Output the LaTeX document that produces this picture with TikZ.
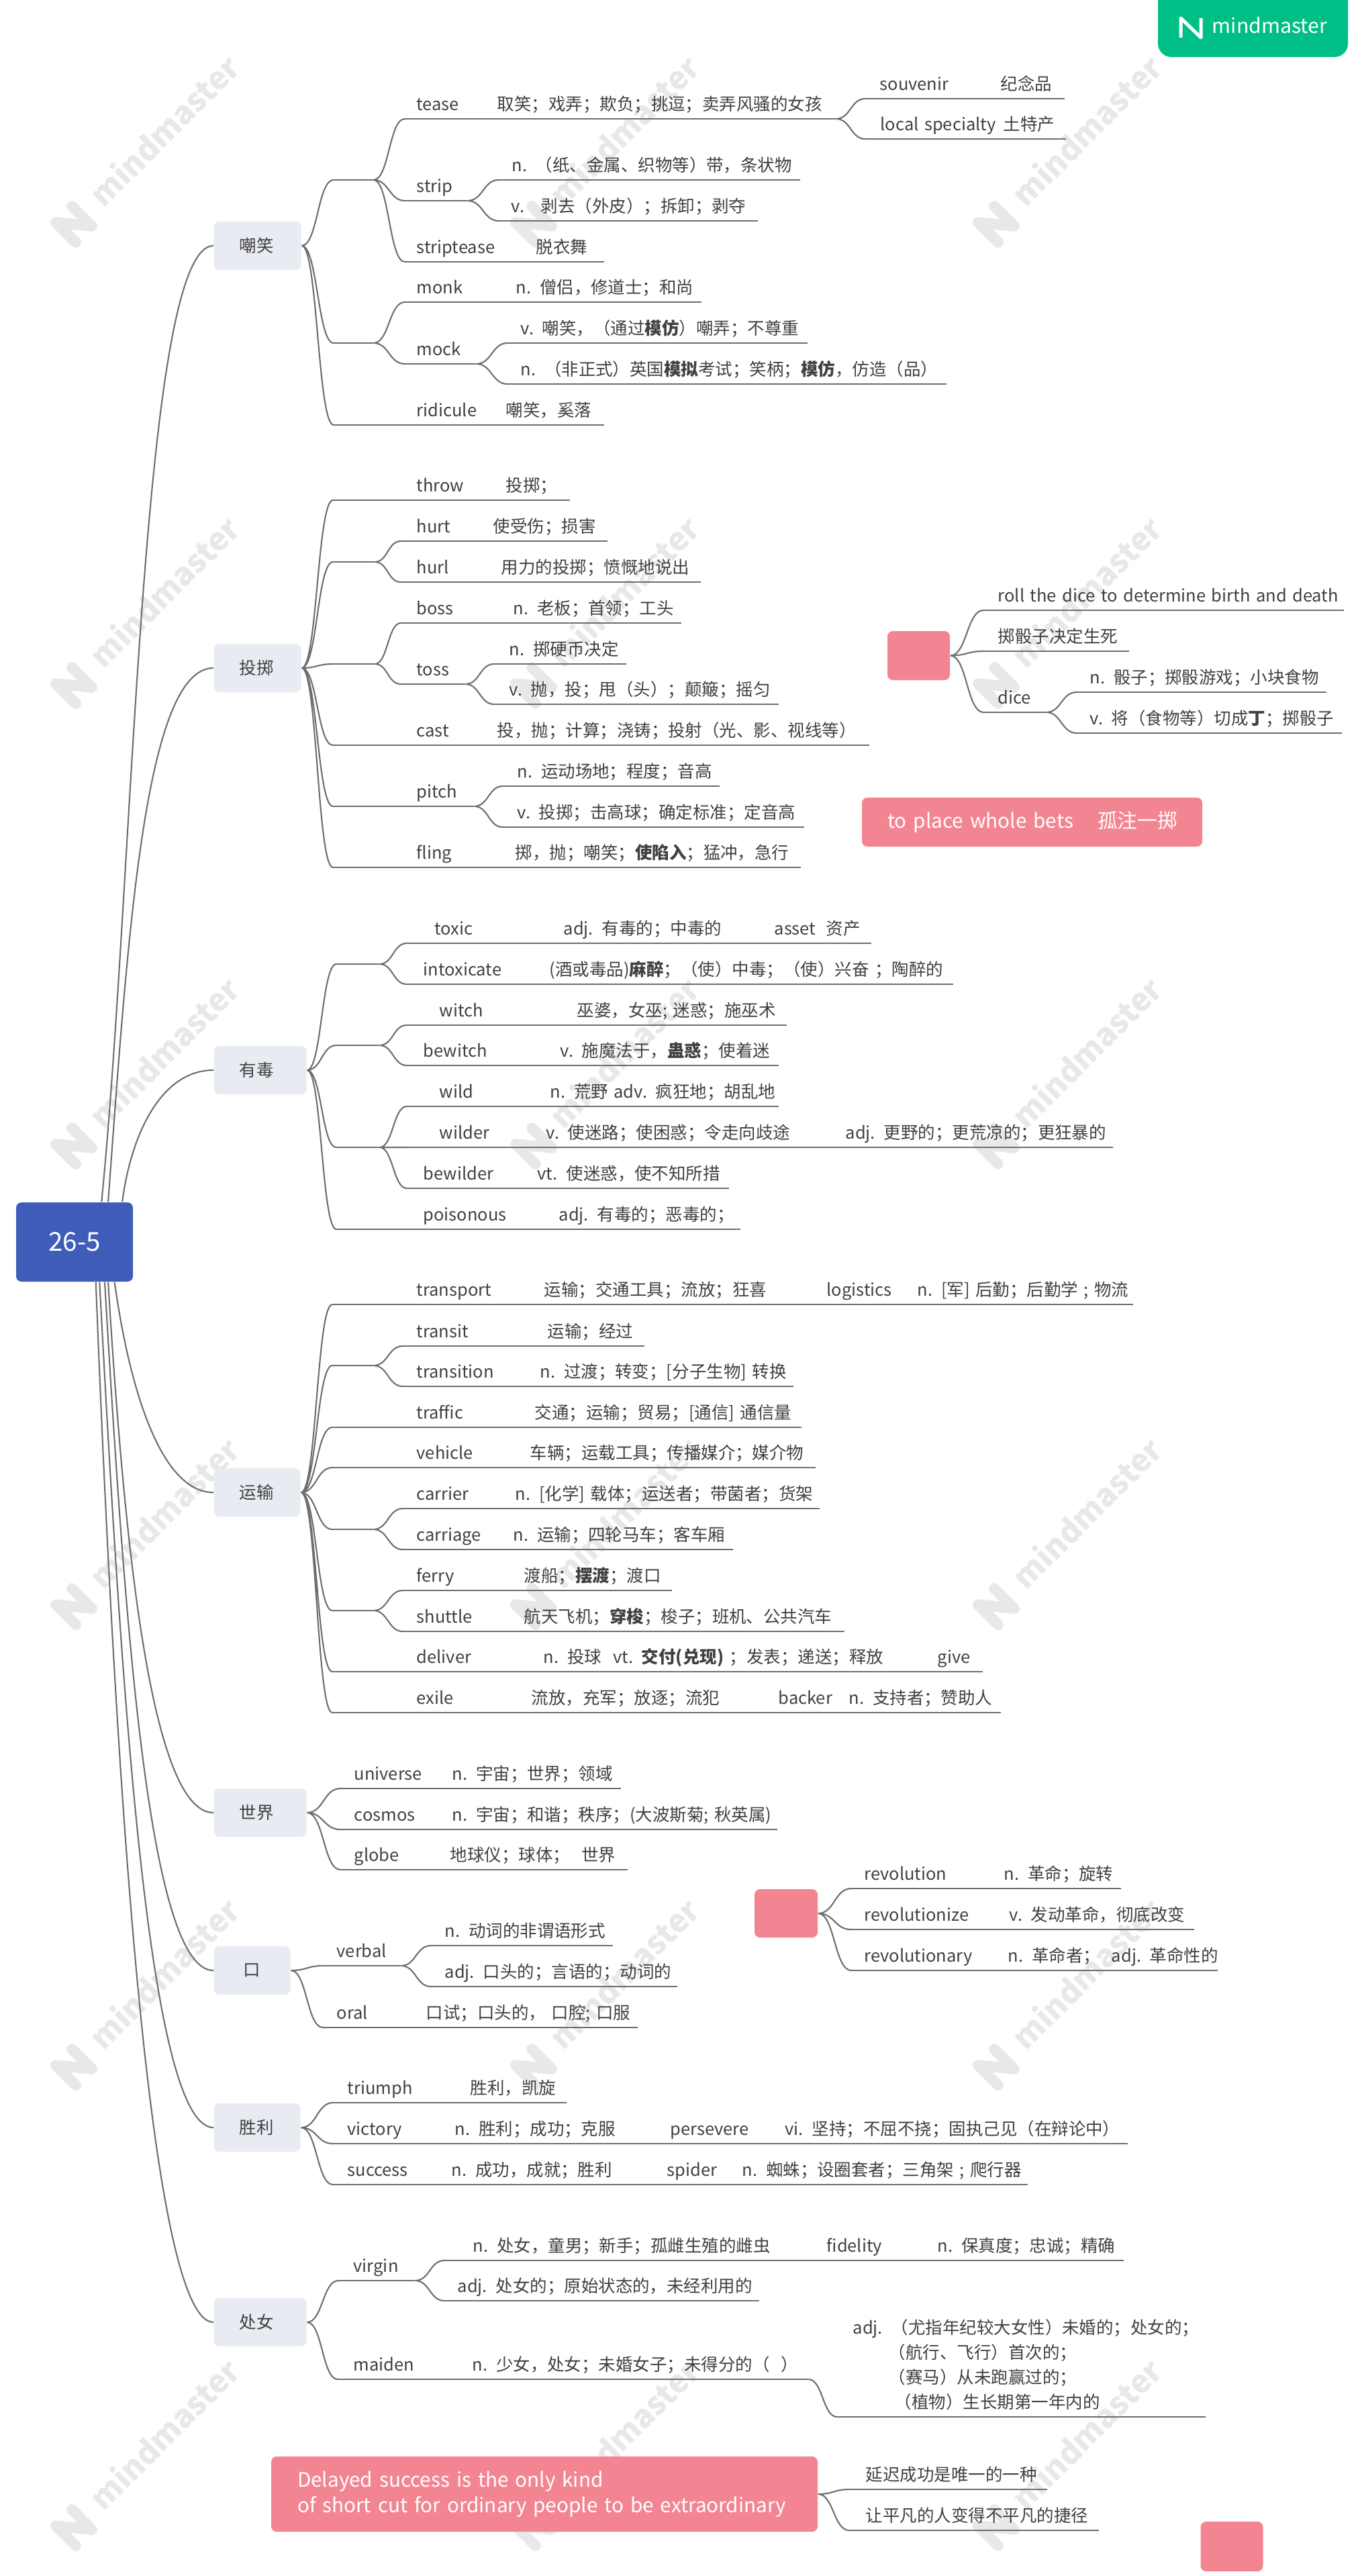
\documentclass[tikz,border=0pt]{standalone}
\usepackage{fontspec}
\setmainfont{Noto Sans CJK SC}
\usepackage{tikz}
\usetikzlibrary{calc}
\usepackage{xcolor}
\definecolor{rootblue}{HTML}{3F5DB8}
\definecolor{topicgrey}{HTML}{E9EBF3}
\definecolor{notepink}{HTML}{F38592}
\definecolor{brandgreen}{HTML}{00BF86}
\definecolor{ink}{HTML}{404040}
\definecolor{wire}{HTML}{6E6E6E}
\definecolor{ghost}{HTML}{E8E8E8}
\newcommand{\bodyfont}{\fontsize{7.25}{10.5}\selectfont}
\newcommand{\notefont}{\fontsize{8.45}{10.8}\selectfont}
\newcommand{\entry}[2]{\leavevmode\rlap{\hspace*{#1cm}#2}}
\newcommand{\wordcol}[2]{\makebox[#1cm][l]{#2}}
\tikzset{
  rootbox/.style={fill=rootblue,rounded corners=.08cm,text=white,
    minimum width=1.74cm,minimum height=1.18cm,font=\fontsize{11}{12}\selectfont},
  topic/.style={fill=topicgrey,rounded corners=.08cm,anchor=west,align=left,
    inner xsep=.38cm,inner ysep=0pt,minimum height=.72cm,text=ink,font=\bodyfont},
  notebox/.style={fill=notepink,rounded corners=.08cm,text=white,inner ysep=0pt,
    align=left,font=\notefont},
  blank/.style={notebox,minimum width=.93cm,minimum height=.73cm},
  rule/.style={draw=wire,line width=.6pt},
  leaf/.style={anchor=south west,inner sep=0pt,align=left,text=ink,font=\bodyfont,
    text height=.2cm,text depth=.12cm,
    append after command={(\tikzlastnode.south west) edge[rule] (\tikzlastnode.south east)}},
  twig/.style={draw=wire,line width=.6pt,
    to path={.. controls ($(\tikztostart)!.5!(\tikztotarget |- \tikztostart)$)
      and ($(\tikztotarget)!.5!(\tikztostart |- \tikztotarget)$) .. (\tikztotarget)}},
  trunk/.style={draw=wire,line width=.6pt},
  ghosttext/.style={text=ghost,rotate=45,font=\fontsize{13.4}{16}\selectfont\bfseries},
  ghostlogo/.style={draw=ghost,line width=.16cm,line join=round,line cap=round}
}

\begin{document}
\begin{tikzpicture}[x=1cm,y=-1cm]
  \useasboundingbox (0,0) rectangle (20.22,38.37);
  % watermark
  \foreach \col in {1.10,7.95,14.84} {
    \foreach \row in {3.34,10.21,17.07,23.93,30.79,37.65} {
      \node[ghosttext] at (\col+1.34,\row-1.40) {mindmaster};
      \draw[ghostlogo,rotate around={45:(\col,\row)}] (\col-.17,\row+.21) -- (\col-.17,\row-.21)
        -- (\col+.17,\row+.21) -- (\col+.17,\row-.21);
    }
  }
  % brand
  \node[fill=brandgreen,rounded corners=.2cm,minimum width=2.83cm,minimum height=1.2cm] (badge) at (18.665,.25) {};
  \node[text=white,font=\fontsize{8.6}{11}\selectfont] (brand) at (18.915,.38) {mindmaster};
  \draw[white,line width=.05cm,line join=round] (17.59,.56) -- (17.59,.27) -- (17.89,.56) -- (17.89,.27);

  % root and topics
  \node[rootbox] (root) at (1.11,18.50) {26-5};
  \node[topic,text width=.54cm] (laugh) at (3.18,3.66) {嘲笑};
  \node[topic,text width=.54cm] (hurling) at (3.18,9.95) {投掷};
  \node[topic,text width=.62cm] (poison) at (3.18,15.94) {有毒};
  \node[topic,text width=.53cm] (carry) at (3.18,22.23) {运输};
  \node[topic,text width=.62cm] (world) at (3.18,27.00) {世界};
  \node[topic,text width=.38cm,align=center] (mouth) at (3.18,29.35) {口};
  \node[topic,text width=.53cm] (win) at (3.18,31.69) {胜利};
  \node[topic,text width=.62cm] (maid) at (3.18,34.59) {处女};
  \draw[trunk] (root.56) .. controls (2.00,13.00) and (2.10,3.66) .. (laugh.west);
  \draw[trunk] (root.50) .. controls (1.90,14.00) and (2.15,9.95) .. (hurling.west);
  \draw[trunk] (root.40) .. controls (1.95,16.90) and (2.40,15.94) .. (poison.west);
  \draw[trunk] (root.-45) .. controls (1.90,20.50) and (2.35,22.23) .. (carry.west);
  \draw[trunk] (root.-50) .. controls (1.85,23.00) and (2.25,27.00) .. (world.west);
  \draw[trunk] (root.-53) .. controls (1.85,24.00) and (2.20,29.35) .. (mouth.west);
  \draw[trunk] (root.-58) .. controls (1.80,25.00) and (2.20,31.69) .. (win.west);
  \draw[trunk] (root.-62) .. controls (1.70,26.00) and (2.20,34.59) .. (maid.west);

  % 嘲笑
  \node[leaf,text width=.58cm] (teasefork) at (4.97,2.68) {};
  \node[leaf,text width=6.41cm] (tease) at (6.03,1.77) {\entry{.17}{\wordcol{1.20}{tease}取笑；戏弄；欺负；挑逗；卖弄风骚的女孩}};
  \node[leaf,text width=2.96cm] (souvenir) at (12.89,1.47) {\entry{.21}{\wordcol{1.80}{souvenir}纪念品}};
  \node[leaf,text width=2.98cm] (localspecialty) at (12.89,2.07) {\entry{.22}{\wordcol{1.83}{local specialty}土特产}};
  \node[leaf,text width=.92cm] (strip) at (6.03,2.99) {\entry{.17}{strip}};
  \node[leaf,text width=4.48cm] (stripn) at (7.43,2.68) {\entry{.19}{\wordcol{.35}{n.}（纸、金属、织物等）带，条状物}};
  \node[leaf,text width=3.85cm] (stripv) at (7.43,3.29) {\entry{.18}{\wordcol{.44}{v.}剥去（外皮）；拆卸；剥夺}};
  \node[leaf,text width=2.96cm] (striptease) at (6.03,3.90) {\entry{.17}{\wordcol{1.78}{striptease}脱衣舞}};
  \node[leaf,text width=.58cm] (mockfork) at (4.97,5.11) {};
  \node[leaf,text width=4.41cm] (monk) at (6.03,4.50) {\entry{.17}{\wordcol{1.48}{monk}n. 僧侣，修道士；和尚}};
  \node[leaf,text width=1.05cm] (mock) at (6.03,5.42) {\entry{.17}{mock}};
  \node[leaf,text width=4.46cm] (mockv) at (7.56,5.11) {\entry{.19}{v. 嘲笑，（通过\textbf{模仿}）嘲弄；不尊重}};
  \node[leaf,text width=6.53cm] (mockn) at (7.56,5.72) {\entry{.19}{n. （非正式）英国\textbf{模拟}考试；笑柄；\textbf{模仿}，仿造（品）}};
  \node[leaf,text width=4.02cm] (ridicule) at (4.97,6.33) {\entry{1.23}{\wordcol{1.33}{ridicule}嘲笑，奚落}};
  \draw[twig] (laugh.east) to (teasefork.south west) (laugh.east) to (mockfork.south west) (laugh.east) to (ridicule.south west);
  \draw[twig] (teasefork.south east) to (tease.south west) (teasefork.south east) to (strip.south west) (teasefork.south east) to (striptease.south west);
  \draw[twig] (tease.south east) to (souvenir.south west) (tease.south east) to (localspecialty.south west);
  \draw[twig] (strip.south east) to (stripn.south west) (strip.south east) to (stripv.south west);
  \draw[twig] (mockfork.south east) to (monk.south west) (mockfork.south east) to (mock.south west);
  \draw[twig] (mock.south east) to (mockv.south west) (mock.south east) to (mockn.south west);

  % 投掷
  \node[leaf,text width=3.52cm] (throw) at (4.96,7.45) {\entry{1.24}{\wordcol{1.33}{throw}投掷；}};
  \node[leaf,text width=.61cm] (hurlfork) at (4.96,8.37) {};
  \node[leaf,text width=3.07cm] (hurt) at (5.97,8.06) {\entry{.23}{\wordcol{1.14}{hurt}使受伤；损害}};
  \node[leaf,text width=4.46cm] (hurl) at (5.97,8.67) {\entry{.23}{\wordcol{1.26}{hurl}用力的投掷；愤慨地说出}};
  \node[leaf,text width=.61cm] (tossfork) at (4.96,9.89) {};
  \node[leaf,text width=4.17cm] (boss) at (5.97,9.28) {\entry{.23}{\wordcol{1.44}{boss}n. 老板；首领；工头}};
  \node[leaf,text width=.95cm] (toss) at (5.97,10.19) {\entry{.23}{toss}};
  \node[leaf,text width=1.96cm] (tossn) at (7.36,9.89) {\entry{.22}{n. 掷硬币决定}};
  \node[leaf,text width=4.23cm] (tossv) at (7.36,10.49) {\entry{.22}{v. 抛，投；甩（头）；颠簸；摇匀}};
  \node[leaf,text width=7.98cm] (cast) at (4.96,11.10) {\entry{1.24}{\wordcol{1.20}{cast}投，抛；计算；浇铸；投射（光、影、视线等）}};
  \node[leaf,text width=2.09cm] (pitch) at (4.96,12.01) {\entry{1.24}{pitch}};
  \node[leaf,text width=3.22cm] (pitchn) at (7.49,11.71) {\entry{.21}{n. 运动场地；程度；音高}};
  \node[leaf,text width=4.48cm] (pitchv) at (7.49,12.32) {\entry{.21}{v. 投掷；击高球；确定标准；定音高}};
  \node[leaf,text width=6.96cm] (fling) at (4.96,12.92) {\entry{1.24}{\wordcol{1.47}{fling}掷，抛；嘲笑；\textbf{使陷入}；猛冲，急行}};
  \draw[twig] (hurling.east) to (throw.south west) (hurling.east) to (hurlfork.south west) (hurling.east) to (tossfork.south west)
    (hurling.east) to (cast.south west) (hurling.east) to (pitch.south west) (hurling.east) to (fling.south west);
  \draw[twig] (hurlfork.south east) to (hurt.south west) (hurlfork.south east) to (hurl.south west);
  \draw[twig] (tossfork.south east) to (boss.south west) (tossfork.south east) to (toss.south west);
  \draw[twig] (toss.south east) to (tossn.south west) (toss.south east) to (tossv.south west);
  \draw[twig] (pitch.south east) to (pitchn.south west) (pitch.south east) to (pitchv.south west);

  % 骰子
  \node[blank] (dicebox) at (13.685,9.765) {};
  \node[leaf,text width=5.36cm] (roll) at (14.65,9.09) {\entry{.21}{roll the dice to determine birth and death}};
  \node[leaf,text width=2.16cm] (rollcn) at (14.65,9.70) {\entry{.21}{掷骰子决定生死}};
  \node[leaf,text width=.92cm] (dice) at (14.65,10.61) {\entry{.21}{dice}};
  \node[leaf,text width=3.71cm] (dicen) at (16.04,10.31) {\entry{.19}{n. 骰子；掷骰游戏；小块食物}};
  \node[leaf,text width=3.94cm] (dicev) at (16.04,10.92) {\entry{.19}{v. 将（食物等）切成\textbf{丁}；掷骰子}};
  \draw[twig] (dicebox.east) to (roll.south west) (dicebox.east) to (rollcn.south west) (dicebox.east) to (dice.south west);
  \draw[twig] (dice.south east) to (dicen.south west) (dice.south east) to (dicev.south west);
  \node[notebox,inner xsep=.38cm,text width=4.31cm,minimum height=.73cm] (bets) at (15.375,12.245) {\wordcol{3.13}{to place whole bets}孤注一掷};

  % 有毒
  \node[leaf,text width=.63cm] (toxicfork) at (5.01,14.36) {};
  \node[leaf,text width=6.91cm] (toxic) at (6.06,14.05) {\entry{.41}{\wordcol{1.92}{toxic}\wordcol{3.14}{adj. 有毒的；中毒的}\wordcol{.77}{asset}资产}};
  \node[leaf,text width=8.13cm] (intoxicate) at (6.06,14.66) {\entry{.24}{\wordcol{1.88}{intoxicate}(酒或毒品)\textbf{麻醉}；（使）中毒；（使）兴奋 ；陶醉的}};
  \node[leaf,text width=.63cm] (witchfork) at (5.01,15.57) {};
  \node[leaf,text width=5.65cm] (witch) at (6.06,15.27) {\entry{.48}{\wordcol{2.05}{witch}巫婆，女巫; 迷惑；施巫术}};
  \node[leaf,text width=5.53cm] (bewitch) at (6.06,15.87) {\entry{.24}{\wordcol{2.04}{bewitch}v. 施魔法于，\textbf{蛊惑}；使着迷}};
  \node[leaf,text width=.63cm] (wildfork) at (5.01,17.09) {};
  \node[leaf,text width=5.53cm] (wild) at (6.06,16.48) {\entry{.48}{\wordcol{1.65}{wild}n. 荒野 adv. 疯狂地；胡乱地}};
  \node[leaf,text width=10.51cm] (wilder) at (6.06,17.09) {\entry{.48}{\wordcol{1.59}{wilder}\wordcol{4.46}{v. 使迷路；使困惑；令走向歧途}adj. 更野的；更荒凉的；更狂暴的}};
  \node[leaf,text width=4.79cm] (bewilder) at (6.06,17.70) {\entry{.24}{\wordcol{1.70}{bewilder}vt. 使迷惑，使不知所措}};
  \node[leaf,text width=6.01cm] (poisonous) at (5.01,18.31) {\entry{1.29}{\wordcol{2.02}{poisonous}adj. 有毒的；恶毒的；}};
  \draw[twig] (poison.east) to (toxicfork.south west) (poison.east) to (witchfork.south west) (poison.east) to (wildfork.south west) (poison.east) to (poisonous.south west);
  \draw[twig] (toxicfork.south east) to (toxic.south west) (toxicfork.south east) to (intoxicate.south west);
  \draw[twig] (witchfork.south east) to (witch.south west) (witchfork.south east) to (bewitch.south west);
  \draw[twig] (wildfork.south east) to (wild.south west) (wildfork.south east) to (wilder.south west) (wildfork.south east) to (bewilder.south west);

  % 运输
  \node[leaf,text width=11.92cm] (transport) at (4.95,19.43) {\entry{1.25}{\wordcol{1.90}{transport}\wordcol{4.21}{运输；交通工具；流放；狂喜}\wordcol{1.35}{logistics}n. [军] 后勤；后勤学 ; 物流}};
  \node[leaf,text width=.60cm] (transitfork) at (4.95,20.34) {};
  \node[leaf,text width=3.59cm] (transit) at (6.00,20.05) {\entry{.20}{\wordcol{1.95}{transit}运输；经过}};
  \node[leaf,text width=5.81cm] (transition) at (6.00,20.65) {\entry{.20}{\wordcol{1.84}{transition}n. 过渡；转变；[分子生物] 转换}};
  \node[leaf,text width=6.98cm] (traffic) at (4.95,21.26) {\entry{1.25}{\wordcol{1.76}{traffic}交通；运输；贸易；[通信] 通信量}};
  \node[leaf,text width=7.19cm] (vehicle) at (4.95,21.86) {\entry{1.25}{\wordcol{1.69}{vehicle}车辆；运载工具；传播媒介；媒介物}};
  \node[leaf,text width=.60cm] (carrierfork) at (4.95,22.78) {};
  \node[leaf,text width=6.20cm] (carrier) at (6.00,22.47) {\entry{.20}{\wordcol{1.47}{carrier}n. [化学] 载体；运送者；带菌者；货架}};
  \node[leaf,text width=4.91cm] (carriage) at (6.00,23.08) {\entry{.20}{\wordcol{1.44}{carriage}n. 运输；四轮马车；客车厢}};
  \node[leaf,text width=.60cm] (ferryfork) at (4.95,23.99) {};
  \node[leaf,text width=4.00cm] (ferry) at (6.00,23.69) {\entry{.20}{\wordcol{1.60}{ferry}渡船；\textbf{摆渡}；渡口}};
  \node[leaf,text width=6.57cm] (shuttle) at (6.00,24.30) {\entry{.20}{\wordcol{1.60}{shuttle}航天飞机；\textbf{穿梭}；梭子；班机、公共汽车}};
  \node[leaf,text width=9.68cm] (deliver) at (4.95,24.90) {\entry{1.25}{\wordcol{1.89}{deliver}\wordcol{5.87}{n. 投球 \ vt. \textbf{交付(兑现)} ；发表；递送；释放}give}};
  \node[leaf,text width=9.95cm] (exile) at (4.95,25.51) {\entry{1.25}{\wordcol{1.71}{exile}\wordcol{3.68}{流放，充军；放逐；流犯}\wordcol{1.05}{backer}n. 支持者；赞助人}};
  \draw[twig] (carry.east) to (transport.south west) (carry.east) to (transitfork.south west) (carry.east) to (traffic.south west) (carry.east) to (vehicle.south west)
    (carry.east) to (carrierfork.south west) (carry.east) to (ferryfork.south west) (carry.east) to (deliver.south west) (carry.east) to (exile.south west);
  \draw[twig] (transitfork.south east) to (transit.south west) (transitfork.south east) to (transition.south west);
  \draw[twig] (carrierfork.south east) to (carrier.south west) (carrierfork.south east) to (carriage.south west);
  \draw[twig] (ferryfork.south east) to (ferry.south west) (ferryfork.south east) to (shuttle.south west);

  % 世界
  \node[leaf,text width=4.17cm] (universe) at (5.07,26.64) {\entry{.20}{\wordcol{1.46}{universe}n. 宇宙；世界；领域}};
  \node[leaf,text width=6.50cm] (cosmos) at (5.07,27.25) {\entry{.20}{\wordcol{1.46}{cosmos}n. 宇宙；和谐；秩序；(大波斯菊; 秋英属)}};
  \node[leaf,text width=4.27cm] (globe) at (5.07,27.85) {\entry{.20}{\wordcol{1.43}{globe}地球仪；球体； \ 世界}};
  \draw[twig] (world.east) to (universe.south west) (world.east) to (cosmos.south west) (world.east) to (globe.south west);

  % 口
  \node[leaf,text width=1.15cm] (verbal) at (4.81,29.28) {\entry{.20}{verbal}};
  \node[leaf,text width=2.70cm] (verbaln) at (6.42,28.98) {\entry{.20}{n. 动词的非谓语形式}};
  \node[leaf,text width=3.66cm] (verbaladj) at (6.42,29.59) {\entry{.20}{adj. 口头的；言语的；动词的}};
  \node[leaf,text width=4.68cm] (oral) at (4.81,30.20) {\entry{.20}{\wordcol{1.33}{oral}口试；口头的， 口腔; 口服}};
  \draw[twig] (mouth.east) to (verbal.south west) (mouth.east) to (oral.south west);
  \draw[twig] (verbal.south east) to (verbaln.south west) (verbal.south east) to (verbaladj.south west);

  % 革命
  \node[blank,minimum width=.94cm,minimum height=.72cm] (revolutionbox) at (11.71,28.50) {};
  \node[leaf,text width=4.01cm] (revolution) at (12.68,28.13) {\entry{.19}{\wordcol{2.08}{revolution}n. 革命；旋转}};
  \node[leaf,text width=5.10cm] (revolutionize) at (12.68,28.74) {\entry{.19}{\wordcol{2.16}{revolutionize}v. 发动革命，彻底改变}};
  \node[leaf,text width=5.45cm] (revolutionary) at (12.68,29.35) {\entry{.19}{\wordcol{2.14}{revolutionary}n. 革命者； \ adj. 革命性的}};
  \draw[twig] (revolutionbox.east) to (revolution.south west) (revolutionbox.east) to (revolutionize.south west) (revolutionbox.east) to (revolutionary.south west);

  % 胜利
  \node[leaf,text width=3.47cm] (triumph) at (4.96,31.32) {\entry{.21}{\wordcol{1.83}{triumph}胜利，凯旋}};
  \node[leaf,text width=11.83cm] (victory) at (4.96,31.93) {\entry{.21}{\wordcol{1.60}{victory}\wordcol{3.21}{n. 胜利；成功；克服}\wordcol{1.71}{persevere}vi. 坚持；不屈不挠；固执己见（在辩论中）}};
  \node[leaf,text width=10.34cm] (success) at (4.96,32.54) {\entry{.21}{\wordcol{1.55}{success}\wordcol{3.21}{n. 成功，成就；胜利}\wordcol{1.12}{spider}n. 蜘蛛；设圈套者；三角架 ; 爬行器}};
  \draw[twig] (win.east) to (triumph.south west) (win.east) to (victory.south west) (win.east) to (success.south west);

  % 处女
  \node[leaf,text width=1.13cm] (virgin) at (5.04,33.97) {\entry{.22}{virgin}};
  \node[leaf,text width=10.11cm] (virginn) at (6.62,33.67) {\entry{.42}{\wordcol{5.27}{n. 处女，童男；新手；孤雌生殖的雌虫}\wordcol{1.65}{fidelity}n. 保真度；忠诚；精确}};
  \node[leaf,text width=4.68cm] (virginadj) at (6.62,34.27) {\entry{.19}{adj. 处女的；原始状态的，未经利用的}};
  \node[leaf,text width=7.00cm] (maiden) at (5.03,35.44) {\entry{.23}{\wordcol{1.77}{maiden}n. 少女，处女；未婚女子；未得分的（ \ ）}};
  \node[leaf,text width=5.48cm,text depth=1.23cm] (maidenadj) at (12.47,36.00) {\entry{.23}{adj. （尤指年纪较大女性）未婚的；处女的；}\\
    \entry{.76}{（航行、飞行）首次的；}\\
    \entry{.76}{（赛马）从未跑赢过的；}\\
    \entry{.85}{（植物）生长期第一年内的}};
  \draw[twig] (maid.east) to (virgin.south west) (maid.east) to (maiden.south west);
  \draw[twig] (virgin.south east) to (virginn.south west) (virgin.south east) to (virginadj.south west);
  \draw[twig] (maiden.south east) to (maidenadj.south west);

  % 延迟成功
  \node[notebox,inner xsep=.39cm,text width=7.36cm,minimum height=1.12cm] (quote) at (8.11,37.15) {Delayed success is the only kind\\of short cut for ordinary people to be extraordinary};
  \node[leaf,text width=2.94cm] (delayedcn) at (12.65,37.08) {\entry{.24}{延迟成功是唯一的一种}};
  \node[leaf,text width=3.71cm] (plaincn) at (12.65,37.69) {\entry{.24}{让平凡的人变得不平凡的捷径}};
  \draw[twig] (quote.east) to (delayedcn.south west) (quote.east) to (plaincn.south west);
  \node[blank,minimum height=.74cm] (sparebox) at (18.35,37.93) {};
\end{tikzpicture}
\end{document}
